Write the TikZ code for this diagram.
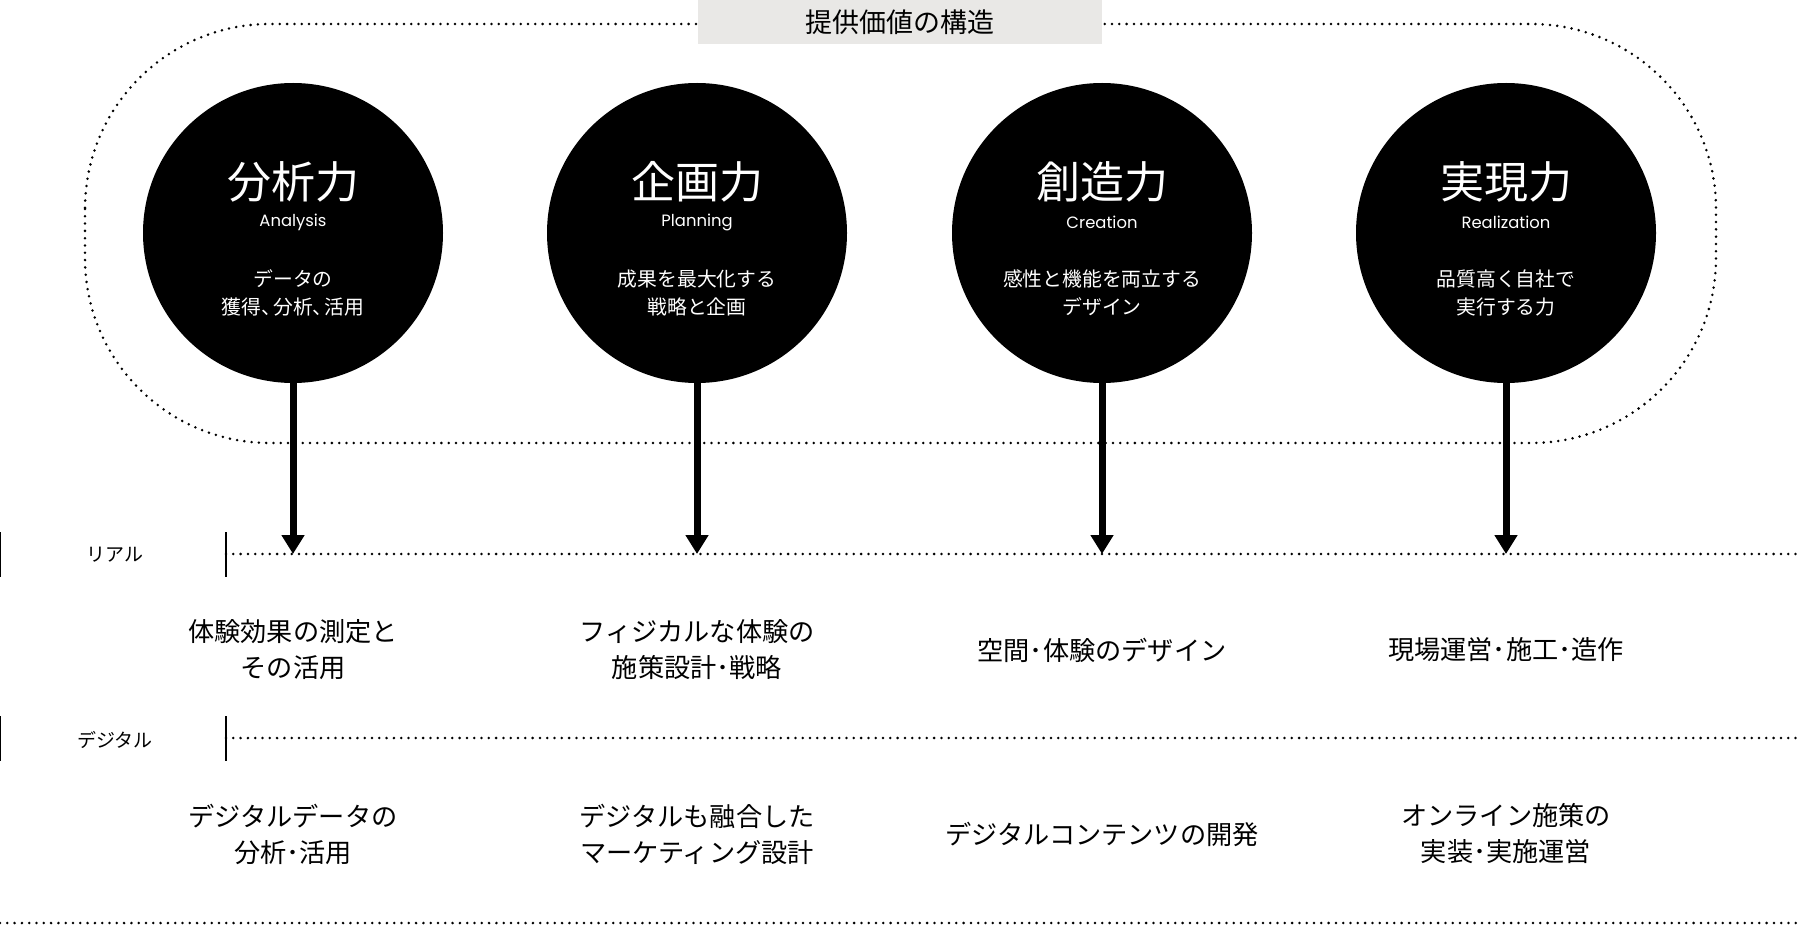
\documentclass[tikz,border=0pt]{standalone}
\usepackage{fontspec}
\usetikzlibrary{arrows.meta}
\setmainfont{Noto Sans CJK JP}
\newfontfamily\enfont{Poppins}
\definecolor{boxgray}{RGB}{233,232,230}
\tikzstyle{bigdot}=[circle,fill=black,inner sep=0pt,minimum size=150pt]
\tikzstyle{dotline}=[line width=1.4pt,line cap=round,
                     dash pattern=on 0pt off 3.65pt]
\tikzstyle{sidetick}=[line width=0.6pt]
\tikzstyle{arrowline}=[line width=3.5pt,
                       -{Triangle[width=11pt,length=9.5pt]}]
\tikzstyle{captxt}=[text=white,inner sep=0pt,
                    font=\fontsize{22pt}{26pt}\selectfont]
\tikzstyle{entxt}=[text=white,inner sep=0pt,
                   font=\enfont\fontsize{8.2pt}{10pt}\selectfont]
\tikzstyle{desctxt}=[text=white,inner sep=0pt,align=center,
                     font=\fontsize{9.9pt}{14pt}\selectfont]
\tikzstyle{rowtxt}=[inner sep=0pt,align=center,
                    font=\fontsize{13.1pt}{18pt}\selectfont]
\tikzstyle{sidetxt}=[inner sep=0pt,font=\fontsize{9.5pt}{11pt}\selectfont]

\begin{document}
\begin{tikzpicture}[x=0.5pt,y=-0.5pt]
  \useasboundingbox (0,0) rectangle (1800,925);
  % frame round the four circles
  \draw[dotline,rounded corners=92.5pt] (85,24) rectangle (1716,443);
  \node (title) at (900,22) [fill=boxgray,minimum width=202pt,minimum height=22pt,
        inner sep=0pt,font=\fontsize{13.5pt}{15pt}\selectfont] {提供価値の構造};
  % circles
  \foreach \x/\i/\t/\e/\d in {293/1/分析力/Analysis/{データの\\獲得、\kern-.4em 分析、\kern-.4em 活用},
      697/2/企画力/Planning/{成果を最大化する\\戦略と企画},
      1102/3/創造力/Creation/{感性と機能を両立する\\デザイン},
      1506/4/実現力/Realization/{品質高く自社で\\実行する力}}{
    \node (c\i) at (\x,233) [bigdot] {};
    \node (ct\i) at (\x,182) [captxt] {\t};
    \node (ce\i) at (\x,222) [entxt] {\e};
    \node (cd\i) at (\x,293) [desctxt] {\d};
    \coordinate (r\i) at (\x,554);
    \draw[arrowline] (c\i.south) -- (r\i);
  }
  % rows
  \node (real) at (115,555) [sidetxt] {リアル};
  \node (digi) at (115,740) [sidetxt] {デジタル};
  \draw[sidetick] (0.5,532) -- (0.5,577) (226,532) -- (226,577);
  \draw[sidetick] (0.5,716) -- (0.5,761) (226,716) -- (226,761);
  \draw[dotline] (226,554) -- (1800,554);
  \draw[dotline] (226,738) -- (1800,738);
  \draw[dotline] (0,923) -- (1800,923);
  \foreach \x/\i/\a/\b in {293/1/{体験効果の測定と\\その活用}/{デジタルデータの\\分析･活用},
      697/2/{フィジカルな体験の\\施策設計･戦略}/{デジタルも融合した\\マーケティング設計},
      1102/3/{空間･体験のデザイン}/{デジタルコンテンツの開発},
      1506/4/{現場運営･施工･造作}/{オンライン施策の\\実装･実施運営}}{
    \node (ra\i) at (\x,650) [rowtxt] {\a};
    \node (da\i) at (\x,834) [rowtxt] {\b};
  }
\end{tikzpicture}
\end{document}
